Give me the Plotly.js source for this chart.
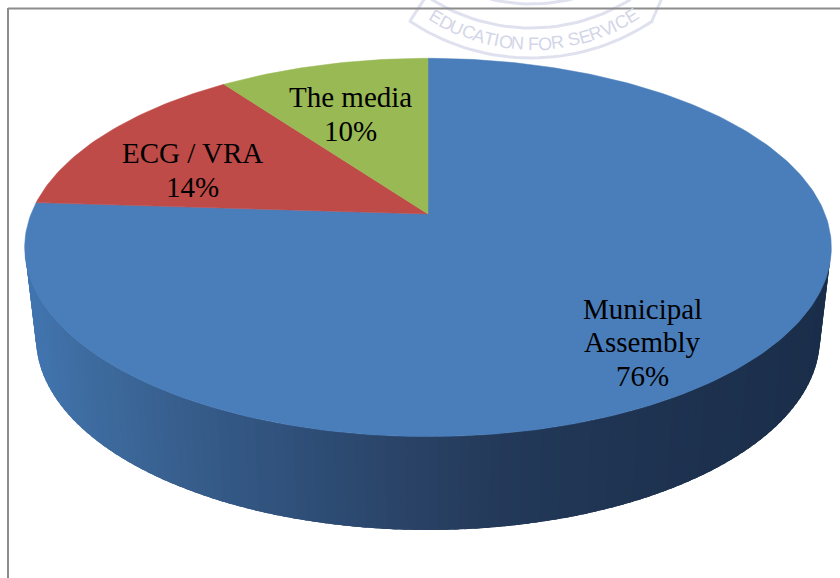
<!DOCTYPE html>
<html>
<head>
<meta charset="utf-8">
<script src="https://cdn.plot.ly/plotly-3.0.1.min.js"></script>
<style>html,body{margin:0;padding:0;background:#fff}#chart{width:840px;height:578px}</style>
</head>
<body>
<div id="chart"></div>
<script>
// Share of responses per body, clockwise from twelve o'clock
const sliceNames = ['Municipal<br>Assembly', 'ECG / VRA', 'The media'];
const sliceValues = [76, 14, 10];
const sliceColors = ['#4a7ebb', '#be4b48', '#98b954'];
const labelCentres = [[642, 342], [192, 170], [350, 114]];

// Shading of the pie's front wall, left to right
const wallStopX = [24, 90, 200, 300, 400, 500, 620, 832];
const wallStopRGB = [[66,118,178],[62,108,160],[54,92,138],[47,80,122],[42,68,104],[36,58,90],[31,52,82],[26,46,74]];

// Perspective of the tilted disc: apex of the slices and its projection terms
const apexX = 428, apexY = 214, spanX = 397, spanY = 183.2, tilt = 0.1768;
const wallDepth = {topCy: 247.5, topRx: 403, topRy: 189, baseCy: 338, baseRx: 392, baseRy: 192};

function rimPoint(deg) {
  const a = deg * Math.PI / 180, u = Math.sin(a), v = Math.cos(a), d = 1 + tilt * v;
  return [apexX + spanX * u / d, apexY - spanY * v / d];
}
function wallColor(x) {
  let i = 0;
  while (i < wallStopX.length - 2 && x > wallStopX[i + 1]) i++;
  const t = Math.min(1, Math.max(0, (x - wallStopX[i]) / (wallStopX[i + 1] - wallStopX[i])));
  const c = wallStopRGB[i].map((s, k) => Math.round(s + (wallStopRGB[i + 1][k] - s) * t));
  return `rgb(${c.join(',')})`;
}

const traces = [];
const poly = (x, y, color, width) => traces.push({
  x, y, type: 'scatter', mode: 'lines', fill: 'toself', fillcolor: color,
  line: {color, width}, hoverinfo: 'skip', showlegend: false
});
const arc = (x, y, color, width) => traces.push({
  x, y, type: 'scatter', mode: 'lines', line: {color, width},
  hoverinfo: 'skip', showlegend: false
});

// College crest behind the chart
const crestColor = '#dfe1ef';
const crestArc = (r, cy, from, to) => {
  const xs = [], ys = [];
  for (let d = from; d <= to; d += 2) {
    xs.push(531 + r * Math.sin(d * Math.PI / 180));
    ys.push(cy + r * Math.cos(d * Math.PI / 180));
  }
  arc(xs, ys, crestColor, 3);
};
crestArc(218, -160, -34, 34);
crestArc(188, -160, -32, 32);
crestArc(173, -169, -18, 18);
arc([410, 425], [21, -2], crestColor, 3);
arc([651, 662], [23, -2], crestColor, 3);

// Front wall: each strip runs on under its neighbour, so no seams show between them
const wallSteps = 120;
for (let i = 0; i < wallSteps; i++) {
  const t0 = Math.PI * i / wallSteps, t1 = Math.PI * (i + 2.5) / wallSteps;
  const t1c = Math.min(t1, Math.PI);
  const w = wallDepth;
  const xs = [428 + w.topRx * Math.cos(t0), 428 + w.topRx * Math.cos(t1c),
              428 + w.baseRx * Math.cos(t1c), 428 + w.baseRx * Math.cos(t0)];
  const ys = [w.topCy + w.topRy * Math.sin(t0), w.topCy + w.topRy * Math.sin(t1c),
              w.baseCy + w.baseRy * Math.sin(t1c), w.baseCy + w.baseRy * Math.sin(t0)];
  poly(xs, ys, wallColor((xs[0] + xs[3]) / 2), 0);
}

// Top face: each wedge is swept from its share of the total
const total = sliceValues.reduce((a, b) => a + b, 0);
let start = 0;
sliceValues.forEach((value, i) => {
  const sweep = 360 * value / total, xs = [apexX], ys = [apexY];
  const steps = Math.ceil(sweep);
  for (let s = 0; s <= steps; s++) {
    const p = rimPoint(start + sweep * s / steps);
    xs.push(p[0]); ys.push(p[1]);
  }
  xs.push(apexX); ys.push(apexY);
  poly(xs, ys, sliceColors[i], 0.5);
  start += sweep;
});

// Slice labels, one annotation per text line
const annotations = [];
const lineGap = 33.5;
sliceNames.forEach((name, i) => {
  const lines = name.split('<br>').concat(sliceValues[i] + '%');
  lines.forEach((line, k) => annotations.push({
    x: labelCentres[i][0], y: labelCentres[i][1] + (k - (lines.length - 1) / 2) * lineGap,
    text: line, showarrow: false, xanchor: 'center', yanchor: 'middle',
    font: {family: 'Liberation Serif, serif', size: 29, color: '#000'}
  }));
});

// Motto set letter by letter along the crest's curve
const crestMotto = 'EDUCATION FOR SERVICE';
const mottoWidths = [.667,.722,.722,.722,.667,.611,.278,.778,.722,.278,.611,.778,.722,.278,.667,.667,.722,.667,.278,.722,.667];
const mottoTotal = mottoWidths.reduce((a, b) => a + b, 0);
let mottoRun = 0;
crestMotto.split('').forEach((ch, i) => {
  const mid = mottoRun + mottoWidths[i] / 2;
  mottoRun += mottoWidths[i];
  if (ch === ' ') return;
  const deg = -33 + 66.5 * mid / mottoTotal, r = 187;
  annotations.push({
    x: 533 + r * Math.sin(deg * Math.PI / 180), y: -143 + r * Math.cos(deg * Math.PI / 180),
    text: ch, textangle: -deg, showarrow: false, xanchor: 'center', yanchor: 'middle',
    font: {family: 'Liberation Sans, sans-serif', size: 18, color: '#d3d6e8'}
  });
});

const hidden = {visible: false, fixedrange: true};
const layout = {
  width: 840, height: 578, margin: {l: 0, r: 0, t: 0, b: 0},
  paper_bgcolor: '#ffffff', plot_bgcolor: '#ffffff', showlegend: false,
  xaxis: Object.assign({range: [0, 840]}, hidden),
  yaxis: Object.assign({range: [578, 0]}, hidden),
  annotations,
  shapes: [
    {type: 'line', xref: 'x', yref: 'y', x0: 8, x1: 840, y0: 8.5, y1: 8.5, layer: 'above', line: {color: '#8c8c8c', width: 2}},
    {type: 'line', xref: 'x', yref: 'y', x0: 8, x1: 8, y0: 8, y1: 578, layer: 'above', line: {color: '#8c8c8c', width: 2}}
  ]
};
Plotly.newPlot('chart', traces, layout, {displayModeBar: false, staticPlot: true});
</script>
</body>
</html>
